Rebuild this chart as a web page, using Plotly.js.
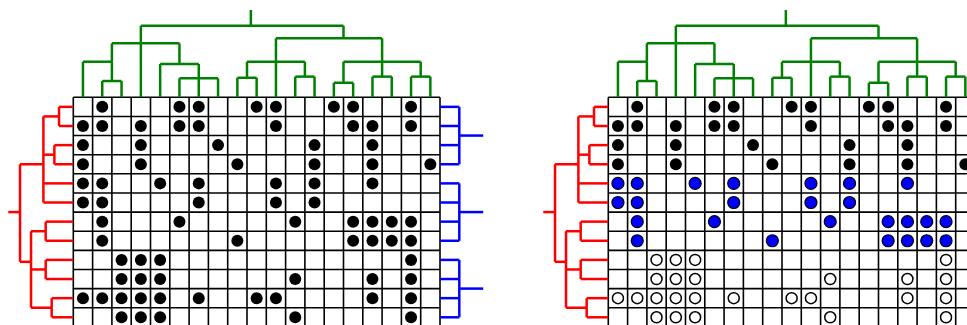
<!DOCTYPE html>
<html>
<head>
<meta charset="utf-8">
<script src="https://cdn.plot.ly/plotly-3.0.1.min.js"></script>
<style>
  html, body { margin: 0; padding: 0; background: #fff; }
  #chart { width: 967px; height: 325px; }
</style>
</head>
<body>
<div id="chart"></div>
<script>
// matrix: 12 rows x 19 columns, filled cells per row
const nRows = 12;
const nCols = 19;
const rowCells = [
  [1, 5, 6, 9, 10, 13, 14, 17],
  [0, 1, 3, 5, 6, 10, 14, 15, 17],
  [0, 3, 7, 12, 15],
  [0, 3, 8, 12, 15, 18],
  [0, 1, 4, 6, 10, 12, 15],
  [0, 1, 6, 10, 12],
  [1, 5, 11, 14, 15, 16, 17],
  [1, 8, 14, 15, 16, 17],
  [2, 3, 4, 17],
  [2, 3, 4, 11, 15, 17],
  [0, 1, 2, 3, 4, 6, 9, 10, 15, 17],
  [2, 3, 4, 11, 17]
];
// row cluster of each row (used to colour the second panel)
const rowCluster = [0, 0, 0, 0, 1, 1, 1, 1, 2, 2, 2, 2];

// column dendrogram: [name, children, height, stem position]
const colMerges = [
  ['A', [1, 2], 0.85, 2.0],
  ['B', [5, 6, 7], 0.99, 6.5],
  ['C', [8, 9], 1.02, 9.0],
  ['D', [11, 12], 1.08, 12.0],
  ['E', [13, 14], 0.76, 14.0],
  ['F', [15, 16], 1.08, 16.0],
  ['G', [17, 18], 1.08, 18.0],
  ['H', [0, 'A'], 1.86, 2.0],
  ['I', [4, 'B'], 1.74, 5.5],
  ['J', ['C', 10, 'D'], 1.86, 10.5],
  ['K', ['E', 'F', 'G'], 1.86, 16.0],
  ['M', ['H', 3, 'I'], 2.82, 3.5],
  ['L', ['J', 'K'], 3.08, 14.0],
  ['R', ['M', 'L'], 3.74, 9.2]
];
const colRoots = [['R', 4.56]];

// row dendrogram (left)
const rowMerges = [
  ['N01', [0, 1], 0.74, 1.0],
  ['N23', [2, 3], 0.98, 3.0],
  ['G1', ['N01', 'N23', 4, 5], 1.55, 3.5],
  ['N67', [6, 7], 1.43, 7.0],
  ['N89', [8, 9], 1.43, 9.0],
  ['N1011', [10, 11], 1.12, 11.0],
  ['G2', ['N67', 'N89', 'N1011'], 2.19, 8.6],
  ['R', ['G1', 'G2'], 2.76, 6.0]
];
const rowRoots = [['R', 3.37]];

// row clusters (right, blue)
const clusterMerges = [
  ['B1', [0, 1, 2, 3], 1.0, 2.0],
  ['B2', [4, 5, 6, 7], 1.0, 6.0],
  ['B3', [8, 9, 10, 11], 1.0, 10.0]
];
const clusterRoots = [['B1', 2.24], ['B2', 2.24], ['B3', 2.24]];

const panelOffset = 27.72;

// segments of a tree in (pos, height) space
function treeSegs(merges, roots) {
  const node = {};
  const get = c => typeof c === 'number' ? {pos: c + 0.5, h: 0} : node[c];
  const segs = [];
  merges.forEach(([name, kids, h, pos]) => {
    const ps = kids.map(k => get(k).pos);
    segs.push([Math.min(...ps), h, Math.max(...ps), h]);
    kids.forEach(k => { const c = get(k); segs.push([c.pos, c.h, c.pos, h]); });
    node[name] = {pos: pos, h: h};
  });
  roots.forEach(([name, top]) => {
    const r = node[name];
    segs.push([r.pos, r.h, r.pos, top]);
  });
  return segs;
}

function segTrace(segs, map, color, width) {
  const x = [], y = [];
  segs.forEach(s => {
    const a = map(s[0], s[1]), b = map(s[2], s[3]);
    x.push(a[0], b[0], null);
    y.push(a[1], b[1], null);
  });
  return {x: x, y: y, type: 'scatter', mode: 'lines', hoverinfo: 'skip',
          line: {color: color, width: width}};
}

function gridTrace(off) {
  const x = [], y = [];
  for (let c = 0; c <= nCols; c++) { x.push(c + off, c + off, null); y.push(0, nRows, null); }
  for (let r = 0; r <= nRows; r++) { x.push(off, nCols + off, null); y.push(r, r, null); }
  return {x: x, y: y, type: 'scatter', mode: 'lines', hoverinfo: 'skip',
          line: {color: '#000', width: 1.6}};
}

function dotTrace(off, rows, marker) {
  const x = [], y = [];
  rows.forEach(r => rowCells[r].forEach(c => { x.push(c + 0.5 + off); y.push(r + 0.5); }));
  return {x: x, y: y, type: 'scatter', mode: 'markers', hoverinfo: 'skip', marker: marker};
}

const allRows = rowCells.map((_, i) => i);
const byCluster = k => allRows.filter(r => rowCluster[r] === k);

const colSegs = treeSegs(colMerges, colRoots);
const rowSegs = treeSegs(rowMerges, rowRoots);
const clusterSegs = treeSegs(clusterMerges, clusterRoots);

const traces = [];
[0, panelOffset].forEach(off => {
  traces.push(gridTrace(off));
  traces.push(segTrace(colSegs, (p, h) => [p + off, -h], 'green', 2.5));
  traces.push(segTrace(rowSegs, (p, h) => [off - h, p], 'red', 2.5));
});
traces.push(segTrace(clusterSegs, (p, h) => [nCols + h, p], 'blue', 2.5));

// left panel: all black
traces.push(dotTrace(0, allRows, {color: '#000', size: 12}));
// right panel: coloured by row cluster
traces.push(dotTrace(panelOffset, byCluster(0), {color: '#000', size: 12}));
traces.push(dotTrace(panelOffset, byCluster(1), {color: 'blue', size: 12, line: {color: '#000', width: 1.2}}));
traces.push(dotTrace(panelOffset, byCluster(2), {color: '#fff', size: 11, line: {color: '#000', width: 1.5}}));

const layout = {
  width: 967,
  height: 325,
  margin: {l: 0, r: 0, t: 0, b: 0},
  showlegend: false,
  paper_bgcolor: '#fff',
  plot_bgcolor: '#fff',
  xaxis: {range: [-3.798, 46.306], visible: false, fixedrange: true},
  yaxis: {range: [11.903, -5.086], visible: false, fixedrange: true}
};

Plotly.newPlot('chart', traces, layout, {displayModeBar: false, staticPlot: true});
</script>
</body>
</html>
